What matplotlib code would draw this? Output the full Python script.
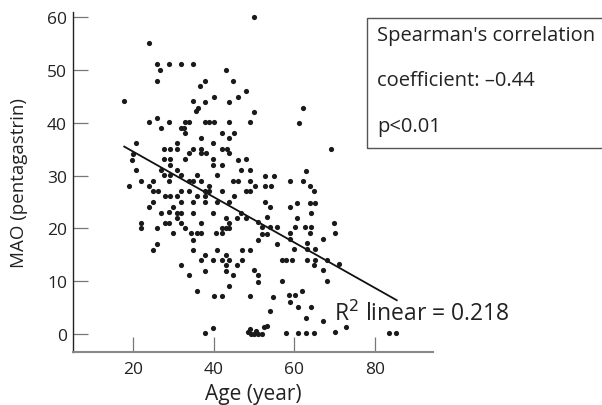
import matplotlib
matplotlib.use("Agg")
import matplotlib.pyplot as plt
from matplotlib.patches import Rectangle

plt.rcParams['font.family'] = ['Open Sans', 'DejaVu Sans']

# age (year), MAO
age = [50.1, 24.0, 26.0, 28.9, 31.9, 35.0, 26.8, 43.0, 26.0, 37.9, 44.8, 36.7, 47.9, 17.9,
       35.0, 37.9, 40.1, 43.9, 46.0, 36.1, 35.7, 49.9, 25.9, 24.0, 28.9, 33.0, 33.9, 37.9,
       38.9, 40.0, 43.9, 49.0, 62.0, 61.0,
       26.9, 31.9, 32.7, 33.0, 42.0, 45.0, 43.8, 36.8, 20.9, 30.9, 39.9, 27.8, 29.1, 30.9,
       34.9, 36.9, 42.0, 43.2, 34.0, 36.9, 38.1, 43.9, 20.0, 19.8, 27.8, 29.1, 32.9, 39.9,
       46.0, 48.0, 29.1, 39.9, 42.0, 20.9, 26.9, 30.9, 46.8, 49.0, 27.8, 29.1, 31.9, 35.9,
       40.9,
       29.0, 22.1, 24.9, 33.9, 35.0, 36.9, 44.7, 46.0, 49.0, 19.0, 24.0, 38.9, 50.2, 24.9,
       26.2, 31.9, 34.0, 37.9, 38.9, 42.0, 48.0, 49.0, 27.9, 29.1, 30.9, 35.9, 37.9, 45.0,
       24.9, 31.9, 35.0, 37.9, 40.9, 43.9, 24.0, 30.0, 26.9, 28.9, 30.9, 31.9, 35.0, 39.9,
       46.8, 30.9, 43.0, 45.9, 48.0, 27.9, 28.9, 31.9, 36.9, 22.0, 43.9, 22.0, 25.9, 33.0,
       42.0, 43.0, 43.9,
       69.0, 62.8, 52.8, 54.9, 52.8, 54.1, 58.8, 62.0, 63.8, 64.9, 52.7, 53.9, 58.9, 60.7,
       63.8, 65.0, 64.0, 53.1, 60.7, 69.8, 50.9, 51.9, 53.9, 55.8, 60.1, 62.7, 64.2,
       29.9, 34.5, 35.9, 37.0, 40.7, 42.0, 51.9, 53.1, 59.0, 63.9, 70.0,
       34.9, 50.9, 55.8, 59.0, 67.0, 26.0, 63.0,
       24.9, 34.9, 40.9, 47.0, 49.0, 59.8, 63.0, 65.1,
       37.9, 43.0,
       36.9, 39.9, 42.0, 43.9, 47.1, 56.8, 58.0, 59.3, 63.0, 65.0, 68.1,
       32.0, 43.0, 45.8, 64.9, 70.9,
       37.9, 43.1, 50.0, 67.0,
       33.9, 44.8, 50.9,
       50.9, 56.9, 68.1,
       43.9, 35.9, 61.9,
       40.1, 42.0, 49.0, 54.7, 58.7, 60.1,
       58.8, 60.9, 64.0, 53.9, 62.8, 67.1,
       39.8, 37.9,
       48.5, 49.0, 49.3, 50.0, 50.5, 51.0, 52.0, 52.5, 53.3,
       58.0, 60.9, 62.8, 64.8, 70.0, 72.8, 83.5, 85.0]

mao = [60.0, 55.1, 51.1, 51.1, 51.1, 51.1, 50.0, 50.0, 48.0, 48.0, 48.0, 46.9, 46.1, 44.1,
       44.1, 43.9, 44.9, 43.9, 44.9, 42.9, 42.2, 42.0, 41.0, 40.1, 40.1, 40.1, 40.1, 40.1,
       40.1, 40.1, 40.1, 40.1, 42.9, 40.0,
       39.0, 39.0, 39.0, 38.1, 38.1, 38.1, 37.1, 37.1, 36.1, 36.1, 36.1, 35.1, 35.1, 35.1,
       35.1, 35.1, 35.1, 35.1, 34.2, 34.2, 34.2, 34.2, 34.1, 33.0, 33.1, 33.1, 33.1, 33.1,
       33.0, 33.2, 32.1, 32.1, 32.1, 31.1, 31.1, 31.1, 31.1, 31.1, 30.1, 30.1, 30.1, 30.1,
       30.1,
       29.0, 29.0, 29.0, 29.0, 29.0, 29.0, 29.0, 29.0, 29.0, 28.1, 28.1, 28.1, 28.1, 27.1,
       27.1, 27.1, 27.1, 27.1, 27.1, 27.1, 27.1, 27.1, 26.1, 26.1, 26.1, 26.1, 26.1, 26.1,
       25.1, 25.1, 25.1, 25.1, 25.1, 25.1, 24.0, 24.1, 23.0, 23.2, 23.0, 23.0, 23.0, 23.0,
       23.0, 22.0, 22.0, 22.0, 22.0, 21.0, 21.0, 21.0, 21.0, 21.0, 21.0, 20.0, 20.1, 20.1,
       20.1, 20.1, 20.1,
       35.0, 30.9, 30.0, 30.0, 28.1, 28.1, 29.0, 29.0, 28.0, 27.0, 25.1, 24.1, 24.0, 24.9,
       24.9, 24.9, 22.9, 22.1, 22.0, 21.1, 21.2, 20.2, 20.2, 20.2, 20.2, 20.2, 20.2,
       19.1, 19.1, 19.1, 19.1, 19.1, 19.1, 18.9, 18.9, 19.1, 19.1, 19.1,
       17.9, 17.9, 17.0, 18.0, 18.0, 17.0, 17.2,
       16.0, 16.0, 16.0, 16.0, 16.0, 16.1, 16.1, 16.1,
       15.0, 15.0,
       14.1, 14.1, 14.1, 14.1, 14.1, 14.0, 14.0, 14.0, 14.0, 14.0, 14.0,
       13.1, 13.1, 13.1, 13.1, 13.3,
       12.0, 12.0, 12.2, 12.1,
       11.2, 11.2, 11.2,
       9.9, 10.0, 10.0,
       9.1, 8.1, 8.1,
       7.2, 7.2, 7.2, 7.1, 7.3, 7.3,
       6.1, 5.2, 5.2, 4.4, 3.1, 2.5,
       1.1, 0.1,
       0.3, 1.0, 0.0, 0.0, 0.5, 0.0, 0.0, 1.4, 1.6,
       0.2, 0.2, 0.2, 0.2, 0.3, 1.3, 0.2, 0.2]

# fitted line ends
fit_age = [17.9, 85.3]
fit_mao = [35.5, 6.4]

x_ticks = [20, 40, 60, 80]
y_ticks = [0, 10, 20, 30, 40, 50, 60]

box_lines = ["Spearman's correlation", "coefficient: \u20130.44", "p<0.01"]

fig = plt.figure(figsize=(6.02, 4.06), dpi=100)
ax = fig.add_axes([0.1218, 0.1313, 0.597, 0.8367])

ax.scatter(age, mao, s=14, color='#1a1a1a', linewidths=0, zorder=3)
ax.plot(fit_age, fit_mao, color='#111111', lw=1.3, zorder=2)

ax.set_xlim(5.3, 94.2)
ax.set_ylim(-3.35, 61.0)
ax.set_xticks(x_ticks)
ax.set_yticks(y_ticks)
ax.spines['top'].set_visible(False)
ax.spines['right'].set_visible(False)
ax.spines['left'].set_color('#222222')
ax.spines['bottom'].set_color('#888888')
ax.spines['left'].set_linewidth(1.0)
ax.spines['bottom'].set_linewidth(1.5)
ax.tick_params(axis='both', direction='in', length=10.5, width=0.9, color='#777777',
               labelsize=12.5, labelcolor='#222222')
ax.tick_params(axis='x', pad=7)
ax.tick_params(axis='y', pad=4.5)

ax.set_xlabel("Age (year)", fontsize=15, color='#222222', labelpad=4)
ax.set_ylabel("MAO (pentagastrin)", fontsize=13.5, color='#222222', labelpad=14)

ax.text(69.8, 2.6, "R$^2$ linear = 0.218", fontsize=16.5, color='#222222', va='baseline')

fig.patches.append(Rectangle((0.6096, 0.633), 0.5, 0.32, transform=fig.transFigure,
                             fill=False, edgecolor='#555555', lw=1.0))
for yy, t in zip([0.912, 0.801, 0.686], box_lines):
    fig.text(0.627, yy, t, fontsize=14.5, color='#222222', va='center')

fig.savefig("out.png", dpi=100)
